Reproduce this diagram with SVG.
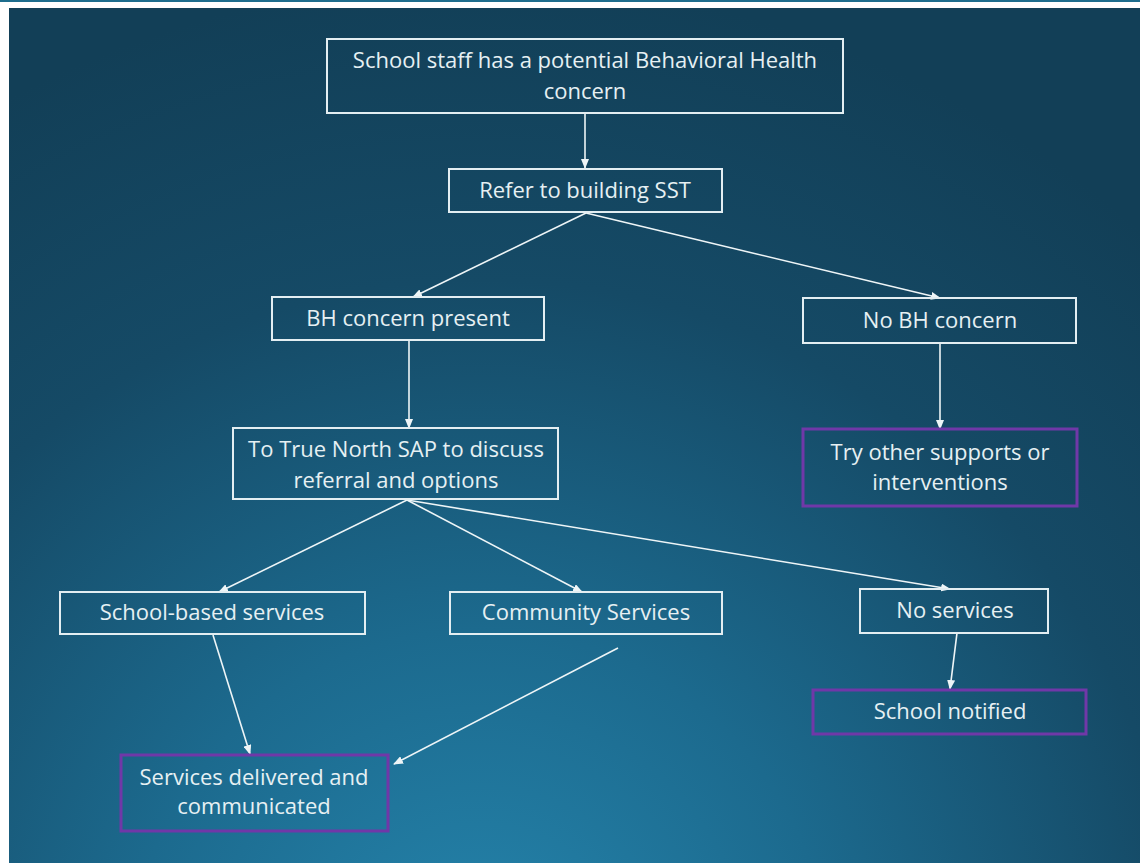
<svg xmlns="http://www.w3.org/2000/svg" width="1140" height="863" viewBox="0 0 1140 863">
  <defs>
    <radialGradient id="bg" cx="480" cy="980" r="1000" gradientUnits="userSpaceOnUse">
      <stop offset="0" stop-color="#2585ad"/>
      <stop offset="0.35" stop-color="#1c6a8e"/>
      <stop offset="0.7" stop-color="#154a66"/>
      <stop offset="1" stop-color="#123f57"/>
    </radialGradient>
    <marker id="ah" markerWidth="10" markerHeight="8" refX="9" refY="4" orient="auto" markerUnits="userSpaceOnUse">
      <path d="M0,0 L10,4 L0,8 Z" fill="#eef5f7"/>
    </marker>
    <style>
      .box { fill: none; stroke: #e3eef2; stroke-width: 2; }
      .pbox { fill: none; stroke: #7038a8; stroke-width: 3; }
      .t { font-family: "Open Sans", "Noto Sans", sans-serif; font-size: 22px; fill: #e6f0f3; text-anchor: middle; }
      .c { stroke: #eef5f7; stroke-width: 1.6; fill: none; marker-end: url(#ah); }
    </style>
  </defs>
  <rect x="0" y="0" width="1140" height="863" fill="#ffffff"/>
  <rect x="0" y="0" width="1140" height="2" fill="#1d6d8d"/>
  <rect x="9" y="8" width="1131" height="855" fill="url(#bg)"/>

  <g id="connectors">
    <line class="c" x1="585" y1="113" x2="585" y2="168"/>
    <line class="c" x1="586" y1="213" x2="413" y2="297"/>
    <line class="c" x1="586" y1="213" x2="940" y2="298"/>
    <line class="c" x1="409" y1="341" x2="409" y2="428"/>
    <line class="c" x1="940" y1="344" x2="940" y2="429"/>
    <line class="c" x1="407" y1="500" x2="219" y2="592"/>
    <line class="c" x1="407" y1="500" x2="582" y2="592"/>
    <line class="c" x1="407" y1="500" x2="950" y2="589"/>
    <line class="c" x1="213" y1="635" x2="250" y2="754"/>
    <line class="c" x1="618" y1="648" x2="394" y2="764"/>
    <line class="c" x1="957" y1="633" x2="950" y2="689"/>
  </g>

  <g id="n-staff">
    <rect class="box" x="327" y="39" width="516" height="74"/>
    <text class="t" x="585" y="68">School staff has a potential  Behavioral Health</text>
    <text class="t" x="585" y="99">concern</text>
  </g>
  <g id="n-refer">
    <rect class="box" x="449" y="169" width="273" height="43"/>
    <text class="t" x="585" y="198">Refer to building SST</text>
  </g>
  <g id="n-bh">
    <rect class="box" x="272" y="297" width="272" height="43"/>
    <text class="t" x="408" y="326">BH concern present</text>
  </g>
  <g id="n-nobh">
    <rect class="box" x="803" y="298" width="273" height="45"/>
    <text class="t" x="940" y="328">No BH concern</text>
  </g>
  <g id="n-truenorth">
    <rect class="box" x="233" y="428" width="325" height="71"/>
    <text class="t" x="396" y="457">To True North SAP to discuss</text>
    <text class="t" x="396" y="488">referral and options</text>
  </g>
  <g id="n-try">
    <rect class="pbox" x="803" y="429" width="274" height="77"/>
    <text class="t" x="940" y="460">Try other supports or</text>
    <text class="t" x="940" y="490">interventions</text>
  </g>
  <g id="n-schoolbased">
    <rect class="box" x="60" y="592" width="305" height="42"/>
    <text class="t" x="212" y="620">School-based services</text>
  </g>
  <g id="n-community">
    <rect class="box" x="450" y="592" width="272" height="42"/>
    <text class="t" x="586" y="620">Community Services</text>
  </g>
  <g id="n-noservices">
    <rect class="box" x="860" y="589" width="188" height="44"/>
    <text class="t" x="955" y="618">No services</text>
  </g>
  <g id="n-notified">
    <rect class="pbox" x="813" y="690" width="273" height="44"/>
    <text class="t" x="950" y="719">School notified</text>
  </g>
  <g id="n-delivered">
    <rect class="pbox" x="121" y="755" width="267" height="76"/>
    <text class="t" x="254" y="785">Services delivered and</text>
    <text class="t" x="254" y="814">communicated</text>
  </g>
</svg>
